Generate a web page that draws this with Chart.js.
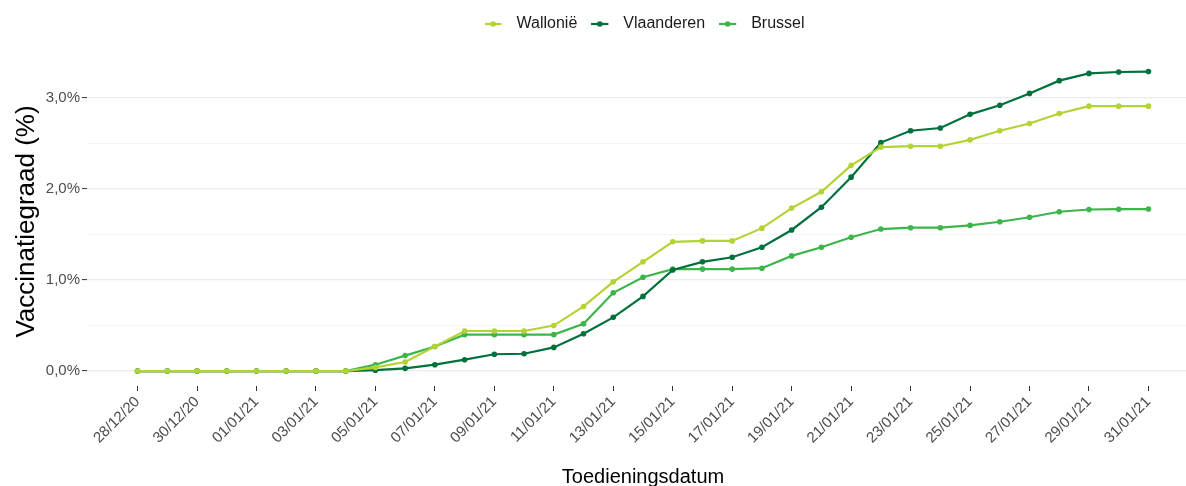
<!DOCTYPE html>
<html>
<head>
<meta charset="utf-8">
<script src="https://cdn.jsdelivr.net/npm/chart.js@4/dist/chart.umd.min.js"></script>
<style>
  html, body { margin: 0; padding: 0; overflow: hidden; background: #ffffff; }
  #wrap { width: 1186px; height: 486px; overflow: hidden; }
</style>
</head>
<body>
<div id="wrap"><canvas id="c" width="1203" height="486"></canvas></div>
<script>
// ---- Data ----
const dates = [
  '28/12/20','29/12/20','30/12/20','31/12/20','01/01/21','02/01/21','03/01/21','04/01/21',
  '05/01/21','06/01/21','07/01/21','08/01/21','09/01/21','10/01/21','11/01/21','12/01/21',
  '13/01/21','14/01/21','15/01/21','16/01/21','17/01/21','18/01/21','19/01/21','20/01/21',
  '21/01/21','22/01/21','23/01/21','24/01/21','25/01/21','26/01/21','27/01/21','28/01/21',
  '29/01/21','30/01/21','31/01/21'
];
const seriesNames = ['Wallonië', 'Vlaanderen', 'Brussel'];
const wallonie = [
  0, 0, 0, 0, 0, 0, 0, 0,
  0.04, 0.10, 0.27, 0.44, 0.44, 0.44, 0.50, 0.71,
  0.98, 1.20, 1.42, 1.43, 1.43, 1.57, 1.79, 1.97,
  2.26, 2.46, 2.47, 2.47, 2.54, 2.64, 2.72, 2.83,
  2.91, 2.91, 2.91
];
const vlaanderen = [
  0, 0, 0, 0, 0, 0, 0, 0,
  0.01, 0.03, 0.07, 0.125, 0.185, 0.19, 0.26, 0.41,
  0.59, 0.82, 1.11, 1.20, 1.25, 1.36, 1.55, 1.80,
  2.13, 2.51, 2.64, 2.67, 2.82, 2.92, 3.05, 3.19,
  3.27, 3.285, 3.29
];
const brussel = [
  0, 0, 0, 0, 0, 0, 0, 0,
  0.07, 0.17, 0.27, 0.40, 0.40, 0.40, 0.40, 0.52,
  0.86, 1.03, 1.12, 1.12, 1.12, 1.13, 1.265, 1.36,
  1.47, 1.56, 1.575, 1.575, 1.60, 1.64, 1.69, 1.75,
  1.775, 1.778, 1.78
];
const xTickIndexes = [0, 2, 4, 6, 8, 10, 12, 14, 16, 18, 20, 22, 24, 26, 28, 30, 32, 34];
const yTickValues = [0, 0.5, 1, 1.5, 2, 2.5, 3];
const yTickLabels = { 0: '0,0%', 1: '1,0%', 2: '2,0%', 3: '3,0%' };

// ---- Styling ----
const colors = ['#B3D335', '#00703C', '#3DB54A'];
const FONT = '"Liberation Sans", Arial, sans-serif';

function legendIcon(color) {
  const c = document.createElement('canvas');
  c.width = 24; c.height = 8;
  const g = c.getContext('2d');
  g.strokeStyle = color; g.lineWidth = 2.2;
  g.beginPath(); g.moveTo(0, 4); g.lineTo(17, 4); g.stroke();
  g.fillStyle = color;
  g.beginPath(); g.arc(8.5, 4, 2.8, 0, Math.PI * 2); g.fill();
  return c;
}
const icons = colors.map(legendIcon);

const allSeries = [wallonie, vlaanderen, brussel];
const datasets = allSeries.map((vals, k) => ({
  label: seriesNames[k],
  data: vals.map((v, i) => ({ x: i, y: v })),
  borderColor: colors[k],
  backgroundColor: colors[k],
  borderWidth: 2.2,
  pointRadius: 2.8,
  pointBorderWidth: 0,
  pointBackgroundColor: colors[k],
  tension: 0,
  fill: false
}));

const legendFix = {
  id: 'legendFix',
  beforeInit(chart) {
    const lg = chart.legend;
    const origFit = lg.fit;
    lg.fit = function () { origFit.call(this); this.height = 57; };
  },
  afterLayout(chart) {
    const lg = chart.legend;
    lg.left += 43; lg.right += 43;
    lg.top += 2; lg.bottom += 2;
  }
};

new Chart(document.getElementById('c'), {
  type: 'line',
  data: { datasets },
  plugins: [legendFix],
  options: {
    responsive: false,
    animation: false,
    devicePixelRatio: 1,
    events: [],
    layout: { padding: 0 },
    plugins: {
      tooltip: { enabled: false },
      legend: {
        position: 'top',
        align: 'center',
        labels: {
          usePointStyle: true,
          pointStyleWidth: 24,
          padding: 14,
          color: '#1a1a1a',
          font: { family: FONT, size: 16 },
          generateLabels(chart) {
            const items = Chart.defaults.plugins.legend.labels.generateLabels(chart);
            items.forEach((it, i) => { it.pointStyle = icons[i]; });
            return items;
          }
        }
      }
    },
    scales: {
      x: {
        type: 'linear',
        min: -1.7,
        max: 35.7,
        afterFit(s) { s.height = 100; },
        afterBuildTicks(s) { s.ticks = xTickIndexes.map(v => ({ value: v })); },
        border: { display: false },
        grid: {
          drawOnChartArea: false,
          drawTicks: true,
          tickLength: 5,
          tickColor: '#333333',
          tickWidth: 1
        },
        ticks: {
          autoSkip: false,
          maxRotation: 45,
          minRotation: 45,
          padding: 2,
          color: '#4d4d4d',
          font: { family: FONT, size: 15 },
          callback: (v) => dates[v]
        },
        title: {
          display: true,
          text: 'Toedieningsdatum',
          color: '#000000',
          font: { family: FONT, size: 20, lineHeight: 0.9 },
          padding: { top: 0, bottom: 0 }
        }
      },
      y: {
        type: 'linear',
        min: -0.164,
        max: 3.45,
        afterFit(s) { s.width = 87; },
        afterBuildTicks(s) { s.ticks = yTickValues.map(v => ({ value: v })); },
        border: { display: false },
        grid: {
          drawTicks: true,
          tickLength: 5,
          color: (ctx) => (ctx.tick && Number.isInteger(ctx.tick.value)) ? '#EBEBEB' : '#F4F4F4',
          lineWidth: (ctx) => (ctx.tick && Number.isInteger(ctx.tick.value)) ? 1.2 : 1,
          tickColor: (ctx) => (ctx.tick && Number.isInteger(ctx.tick.value)) ? '#333333' : 'rgba(0,0,0,0)',
          tickWidth: 1
        },
        ticks: {
          padding: 2,
          color: '#4d4d4d',
          font: { family: FONT, size: 15 },
          callback: (v) => (yTickLabels[v] !== undefined ? yTickLabels[v] : '')
        },
        title: {
          display: true,
          text: 'Vaccinatiegraad (%)',
          color: '#000000',
          font: { family: FONT, size: 26 },
          padding: { top: 11, bottom: 0 }
        }
      }
    }
  }
});
</script>
</body>
</html>
